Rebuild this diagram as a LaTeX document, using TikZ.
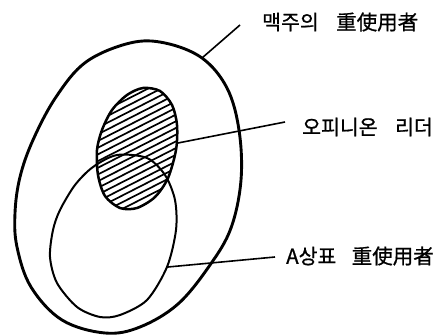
\documentclass[tikz,border=0pt]{standalone}
\usepackage{fontspec}
\newfontfamily\krfont[FakeBold=0.8]{Noto Sans CJK KR}
\begin{document}
\begin{tikzpicture}[x=1pt,y=-1pt,
  lbl/.style={font=\krfont\fontsize{20.5}{22}\selectfont, anchor=west, inner sep=0pt},
  conn/.style={line width=1.6pt},
  outerline/.style={line width=2.9pt},
  innerline/.style={line width=2pt},
  hatchline/.style={line width=1.7pt},
  hatchborder/.style={line width=2.5pt}]
\useasboundingbox (0,0) rectangle (441,336);
\fill[white] (0,0) rectangle (441,336);
% hatched region (opinion leaders)
\begin{scope}
  \clip plot[smooth cycle] coordinates {(143,88) (160,91) (172,105) (177,125) (176,150) (168,178) (155,197) (137,208) (120,208) (105,196) (98,175) (97,150) (102,130) (112,110) (127,95)};
  \foreach \i in {0,...,27} \draw[hatchline] (60,{100+\i*6.7}) -- ++(200,-102);
\end{scope}
\draw[hatchborder] plot[smooth cycle] coordinates {(143,88) (160,91) (172,105) (177,125) (176,150) (168,178) (155,197) (137,208) (120,208) (105,196) (98,175) (97,150) (102,130) (112,110) (127,95)};
% outer region (heavy beer users)
\draw[outerline] plot[smooth cycle, tension=0.6] coordinates {(130,43) (165,43) (202,58) (227,88) (239,130) (241,180) (231,228) (210,265) (178,304) (140,327) (105,333) (62,320) (31,287) (17,247) (15,213) (20,177) (33,140) (56,97) (86,62)};
% inner region (brand A heavy users)
\draw[innerline] plot[smooth cycle] coordinates {(117,155) (147,158) (165,175) (175,200) (176,230) (167,267) (147,300) (120,315) (100,317) (77,307) (57,283) (50,257) (53,230) (60,210) (75,185) (93,167)};
% labels
\node[lbl] (l1) at (262,22) {맥주의\hspace{0.85em}重使用者};
\node[lbl] (l2) at (302,127) {오피니온\hspace{0.85em}리더};
\node[lbl] (l3) at (286,256) {A상표\hspace{0.75em}重使用者};
% connector anchors on shapes
\coordinate (c1) at (202,58);
\coordinate (c2) at (178,143);
\coordinate (c3) at (168,267);
\draw[conn] (c1) -- ([shift={(-22,3)}]l1.west);
\draw[conn] (c2) -- ([shift={(-17,-5)}]l2.west);
\draw[conn] (c3) -- ([shift={(-11,1)}]l3.west);
\end{tikzpicture}
\end{document}
